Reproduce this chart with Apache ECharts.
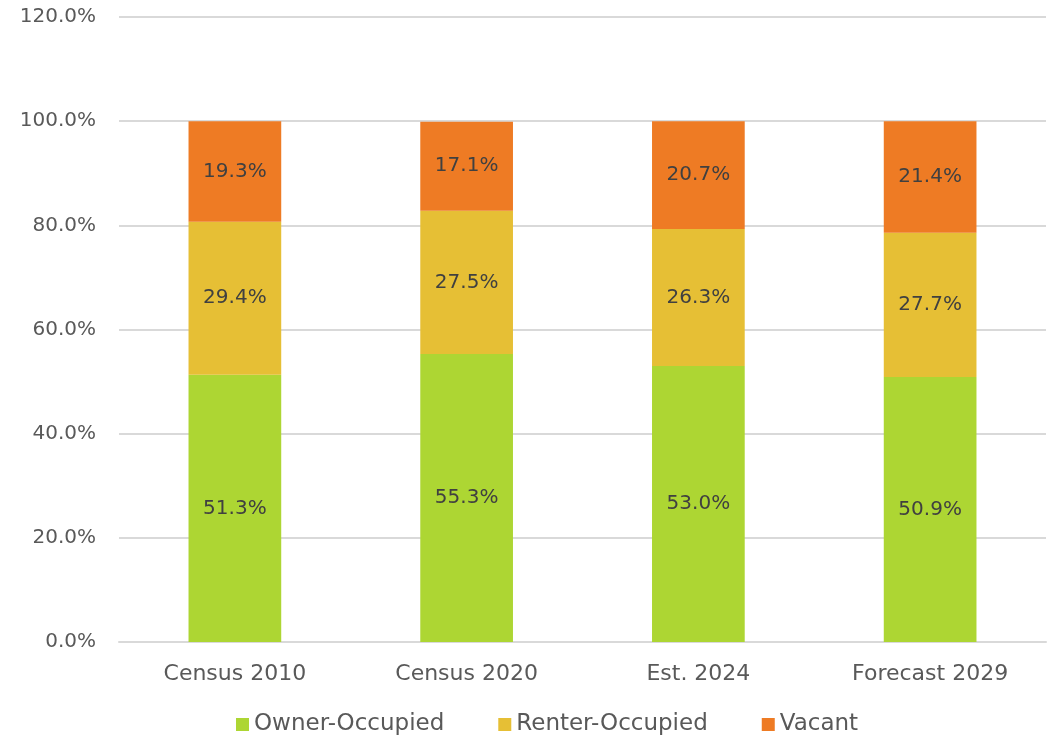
<!DOCTYPE html>
<html><head><meta charset="utf-8">
<script src="https://cdn.jsdelivr.net/npm/echarts@6/dist/echarts.min.js"></script>
<style>html,body{margin:0;padding:0;background:#fff;}#c{width:1054px;height:741px;}</style>
</head><body><div id="c"></div>
<script>
const categories = ["Census 2010", "Census 2020", "Est. 2024", "Forecast 2029"];
const ownerOccupied = [51.3, 55.3, 53.0, 50.9];
const renterOccupied = [29.4, 27.5, 26.3, 27.7];
const vacant = [19.3, 17.1, 20.7, 21.4];
const seriesNames = ["Owner-Occupied", "Renter-Occupied", "Vacant"];
const colors = ["#ADD633", "#E6BF35", "#EE7B24"];
const FONT = "DejaVu Sans";

const chart = echarts.init(document.getElementById('c'), null, {renderer: 'canvas'});
const mk = (name, data, color) => ({
  name, type: 'bar', stack: 'total', data, barWidth: '40%',
  itemStyle: {color},
  label: {show: true, position: 'inside', formatter: p => p.value.toFixed(1) + '%',
    color: '#404040', fontFamily: FONT, fontSize: 20},
  emphasis: {disabled: true}
});
chart.setOption({
  animation: false,
  textStyle: {fontFamily: FONT},
  grid: {left: 119, right: 8, top: 17, bottom: 99, containLabel: false},
  legend: {bottom: 0, left: 231, itemWidth: 13, itemHeight: 13, itemGap: 54,
    icon: 'rect', textStyle: {fontFamily: FONT, fontSize: 23, color: '#595959'},
    data: seriesNames},
  xAxis: {type: 'category', data: categories,
    axisLine: {lineStyle: {color: '#d9d9d9', width: 2}}, axisTick: {show: false},
    axisLabel: {color: '#595959', fontFamily: FONT, fontSize: 22, margin: 21}},
  yAxis: {type: 'value', min: 0, max: 120, interval: 20,
    axisLine: {show: false}, axisTick: {show: false},
    splitLine: {lineStyle: {color: '#d9d9d9', width: 2}},
    axisLabel: {color: '#595959', fontFamily: FONT, fontSize: 20, margin: 23,
      formatter: v => v.toFixed(1) + '%'}},
  series: [
    mk(seriesNames[0], ownerOccupied, colors[0]),
    mk(seriesNames[1], renterOccupied, colors[1]),
    mk(seriesNames[2], vacant, colors[2])
  ]
});
</script></body></html>
